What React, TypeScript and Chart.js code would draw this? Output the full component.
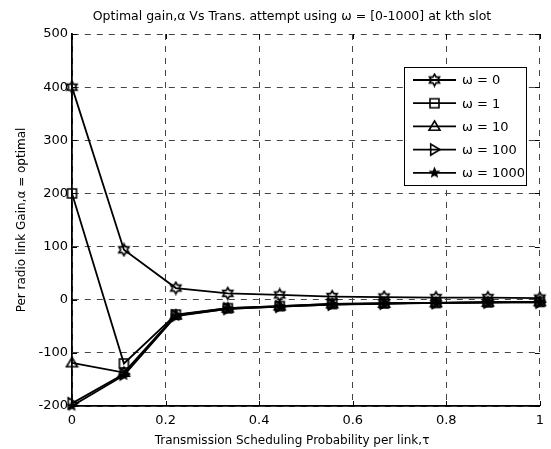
import React, { useEffect, useRef } from 'react';
import { Chart, registerables } from 'chart.js';

Chart.register(...registerables);

const TITLE = 'Optimal gain,α Vs Trans. attempt using ω = [0-1000] at kth slot';
const X_LABEL = 'Transmission Scheduling Probability per link,τ';
const Y_LABEL = 'Per radio link Gain,α = optimal';

const TAU = [0, 0.111, 0.222, 0.333, 0.444, 0.556, 0.667, 0.778, 0.889, 1];
const SERIES_LABELS = ['ω = 0', 'ω = 1', 'ω = 10', 'ω = 100', 'ω = 1000'];
const GAIN_W0 = [400, 94, 22, 12, 9, 6, 5, 4, 4, 3];
const GAIN_W1 = [200, -120, -28, -16, -12, -8, -7, -6, -5, -4];
const GAIN_W10 = [-119, -137, -29, -16, -12, -8, -7, -6, -5, -4];
const GAIN_W100 = [-195, -140, -30, -17, -13, -9, -7, -6, -5, -5];
const GAIN_W1000 = [-200, -142, -31, -17, -13, -9, -8, -6, -5, -5];
const MARKERS = ['hexagram', 'square', 'triangleUp', 'triangleRight', 'smallStar'];

const X_MIN = 0, X_MAX = 1, X_STEP = 0.2;
const Y_MIN = -200, Y_MAX = 500, Y_STEP = 100;

const FONT = 'DejaVu Sans';

function makeMarker(kind: string): HTMLCanvasElement {
  const c = document.createElement('canvas');
  const s = 15;
  c.width = s;
  c.height = s;
  const g = c.getContext('2d') as CanvasRenderingContext2D;
  const m = s / 2;
  g.strokeStyle = '#000';
  g.fillStyle = '#000';
  g.lineWidth = 1.6;
  g.lineJoin = 'miter';
  g.beginPath();
  const star = (n: number, ro: number, ri: number, start: number) => {
    for (let i = 0; i < n * 2; i++) {
      const r = i % 2 === 0 ? ro : ri;
      const a = ((start + (i * 180) / n) * Math.PI) / 180;
      const x = m + r * Math.cos(a);
      const y = m + r * Math.sin(a);
      if (i === 0) g.moveTo(x, y);
      else g.lineTo(x, y);
    }
    g.closePath();
  };
  if (kind === 'hexagram') {
    star(6, 5.8, 3.3, -90);
    g.stroke();
  } else if (kind === 'square') {
    g.rect(m - 4.5, m - 4.5, 9, 9);
    g.stroke();
  } else if (kind === 'triangleUp') {
    g.moveTo(m, m - 5.5);
    g.lineTo(m + 5.5, m + 3.8);
    g.lineTo(m - 5.5, m + 3.8);
    g.closePath();
    g.stroke();
  } else if (kind === 'triangleRight') {
    g.moveTo(m + 5.5, m);
    g.lineTo(m - 3.8, m - 5.5);
    g.lineTo(m - 3.8, m + 5.5);
    g.closePath();
    g.stroke();
  } else {
    star(5, 4.2, 1.9, -90);
    g.fill();
    g.stroke();
  }
  return c;
}

const decorPlugin = {
  id: 'decor',
  afterDraw(chart: any) {
    const { ctx, chartArea: a } = chart;
    const xs = chart.scales.x;
    const ys = chart.scales.y;
    ctx.save();
    ctx.strokeStyle = '#000';
    ctx.lineWidth = 1;
    const tl = 5;
    ctx.beginPath();
    for (let v = X_MIN; v <= X_MAX + 1e-9; v += X_STEP) {
      const px = Math.round(xs.getPixelForValue(v)) + 0.5;
      ctx.moveTo(px, a.bottom);
      ctx.lineTo(px, a.bottom - tl);
      ctx.moveTo(px, a.top);
      ctx.lineTo(px, a.top + tl);
    }
    for (let v = Y_MIN; v <= Y_MAX + 1e-9; v += Y_STEP) {
      const py = Math.round(ys.getPixelForValue(v)) + 0.5;
      ctx.moveTo(a.left, py);
      ctx.lineTo(a.left + tl, py);
      ctx.moveTo(a.right, py);
      ctx.lineTo(a.right - tl, py);
    }
    ctx.stroke();

    ctx.fillStyle = '#000';
    ctx.textAlign = 'center';
    ctx.textBaseline = 'middle';
    ctx.font = `12.5px "${FONT}"`;
    ctx.fillText(TITLE, 292, 17);
    ctx.font = `12px "${FONT}"`;
    ctx.fillText(X_LABEL, 292, 441);
    ctx.save();
    ctx.translate(22, (a.top + a.bottom) / 2);
    ctx.rotate(-Math.PI / 2);
    ctx.fillText(Y_LABEL, 0, 0);
    ctx.restore();

    const bx = 404, by = 67, bw = 122, bh = 118;
    ctx.fillStyle = '#fff';
    ctx.fillRect(bx, by, bw, bh);
    ctx.strokeStyle = '#000';
    ctx.lineWidth = 1;
    ctx.strokeRect(bx + 0.5, by + 0.5, bw, bh);
    ctx.font = `13px "${FONT}"`;
    ctx.textAlign = 'left';
    chart.data.datasets.forEach((ds: any, i: number) => {
      const cy = 80 + i * 23.2;
      ctx.strokeStyle = '#000';
      ctx.lineWidth = 1.8;
      ctx.beginPath();
      ctx.moveTo(413, cy);
      ctx.lineTo(456, cy);
      ctx.stroke();
      const img = ds.pointStyle as HTMLCanvasElement;
      ctx.drawImage(img, 434.5 - img.width / 2, cy - img.height / 2);
      ctx.fillStyle = '#000';
      ctx.fillText(ds.label, 462, cy + 1);
    });
    ctx.restore();
  },
};

const fmt = (v: any) => String(Math.round(Number(v) * 10) / 10);

export default function App() {
  const ref = useRef<HTMLCanvasElement | null>(null);
  useEffect(() => {
    if (!ref.current) return;
    const series = [GAIN_W0, GAIN_W1, GAIN_W10, GAIN_W100, GAIN_W1000];
    const datasets = series.map((vals, i) => ({
      label: SERIES_LABELS[i],
      data: vals.map((y, j) => ({ x: TAU[j], y })),
      borderColor: '#000',
      backgroundColor: '#000',
      borderWidth: 1.8,
      pointStyle: makeMarker(MARKERS[i]) as any,
      pointRadius: 5,
      tension: 0,
      clip: false as any,
    }));
    const chart = new Chart(ref.current, {
      type: 'line',
      data: { datasets },
      options: {
        animation: false,
        responsive: false,
        layout: { padding: { top: 34, right: 8, left: 0, bottom: 0 } },
        plugins: { legend: { display: false }, title: { display: false }, tooltip: { enabled: false } },
        scales: {
          x: {
            type: 'linear',
            min: X_MIN,
            max: X_MAX,
            ticks: { stepSize: X_STEP, color: '#000', font: { family: FONT, size: 13 }, padding: 7, maxRotation: 0, callback: fmt },
            grid: { color: '#444', lineWidth: 1, drawTicks: false },
            border: { display: true, color: '#000', width: 1.8, dash: [6, 6] },
            afterFit: (s: any) => { s.height = 43; },
          },
          y: {
            type: 'linear',
            min: Y_MIN,
            max: Y_MAX,
            ticks: { stepSize: Y_STEP, color: '#000', font: { family: FONT, size: 13 }, padding: 4, callback: fmt },
            grid: { color: '#444', lineWidth: 1, drawTicks: false },
            border: { display: true, color: '#000', width: 1.8, dash: [6, 6] },
            afterFit: (s: any) => { s.width = 72; },
          },
        },
      },
      plugins: [decorPlugin],
    });
    return () => chart.destroy();
  }, []);
  return (
    <div style={{ position: 'absolute', left: 0, top: 0, width: 551, height: 449, background: '#fff' }}>
      <canvas ref={ref} width={551} height={449} />
    </div>
  );
}
